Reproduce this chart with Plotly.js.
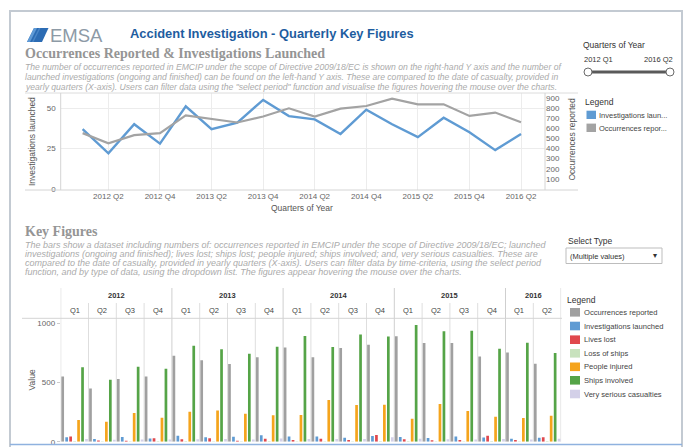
<!DOCTYPE html>
<html><head><meta charset="utf-8">
<script src="https://cdn.plot.ly/plotly-3.0.1.min.js"></script>
<style>html,body{margin:0;padding:0;background:#fff;}#chart{width:686px;height:447px;}</style>
</head><body><div id="chart"></div>
<script>
// ---------- data ----------
const quarters = ['2012 Q1','2012 Q2','2012 Q3','2012 Q4','2013 Q1','2013 Q2','2013 Q3','2013 Q4',
  '2014 Q1','2014 Q2','2014 Q3','2014 Q4','2015 Q1','2015 Q2','2015 Q3','2015 Q4','2016 Q1','2016 Q2'];
const lineTicks = ['2012 Q2','2012 Q4','2013 Q2','2013 Q4','2014 Q2','2014 Q4','2015 Q2','2015 Q4','2016 Q2'];
const years = ['2012','2013','2014','2015','2016'];
const qLabels = ['Q1','Q2','Q3','Q4'];
const investigations = [37,22,40,28,51,37,41,55,45,43,34,49,40,32,44,35,24,34];
const occurrences = [552,451,532,552,728,689,657,716,797,716,794,820,892,836,836,722,755,660];
const livesLost = [45,11,9,30,20,30,8,26,15,25,15,57,20,13,15,50,15,37];
const lossOfShips = [6,3,4,5,5,4,3,5,4,4,3,6,5,3,4,6,3,5];
const peopleInjured = [184,169,243,203,254,265,237,223,226,353,311,313,195,319,260,212,201,220];
const shipsInvolved = [630,525,635,618,813,782,745,805,895,802,907,890,989,935,940,788,839,751];
const verySerious = [23,16,19,19,20,22,18,28,23,22,22,37,24,21,19,23,19,25];
const seriesNames = ['Occurrences reported','Investigations launched','Lives lost','Loss of ships','People injured','Ships involved','Very serious casualties'];
const seriesColors = ['#a0a0a0','#5f9bd3','#e0484d','#c8e2bd','#f5a41c','#55a447','#d3d0e8'];
const lineLegend = ['Investigations laun...','Occurrences repor...'];
const lineYTicks = [0,25,50];
const lineY2Ticks = [100,200,300,400,500,600,700,800,900];
const barYTicks = [0,500,1000];

// ---------- helpers ----------
const W = 686, H = 447;
const px = x => x / W;
const py = y => 1 - y / H;
const SANS = 'Liberation Sans, Arial, sans-serif';
const SERIF = 'Liberation Serif, Times New Roman, serif';
function txt(text, x, y, size, color, o) {
  return Object.assign({text: text, xref: 'paper', yref: 'paper', x: px(x), y: py(y),
    xanchor: 'left', yanchor: 'middle', showarrow: false, borderpad: 0,
    font: {family: SANS, size: size, color: color}}, o || {});
}
function hline(x0, x1, y, color, w) {
  return {type: 'line', xref: 'paper', yref: 'paper', x0: px(x0), x1: px(x1), y0: py(y), y1: py(y), line: {color: color, width: w || 1}};
}
function vline(x, y0, y1, color, w) {
  return {type: 'line', xref: 'paper', yref: 'paper', x0: px(x), x1: px(x), y0: py(y0), y1: py(y1), line: {color: color, width: w || 1}};
}
function box(x0, y0, x1, y1, fill, lc, lw) {
  return {type: 'rect', xref: 'paper', yref: 'paper', x0: px(x0), x1: px(x1), y0: py(y1), y1: py(y0),
    fillcolor: fill, line: {color: lc || fill, width: lw === undefined ? 0 : lw}};
}

// ---------- traces ----------
const traces = [
  {type: 'scatter', mode: 'lines', x: quarters, y: occurrences, xaxis: 'x', yaxis: 'y2',
   line: {color: '#a3a3a3', width: 2.2}, showlegend: false, hoverinfo: 'skip'},
  {type: 'scatter', mode: 'lines', x: quarters, y: investigations, xaxis: 'x', yaxis: 'y',
   line: {color: '#5f9bd3', width: 2.4}, showlegend: false, hoverinfo: 'skip'}
];
const barData = [occurrences, investigations, livesLost, lossOfShips, peopleInjured, shipsInvolved, verySerious];
barData.forEach((vals, i) => {
  traces.push({type: 'bar', x: quarters, y: vals, xaxis: 'x2', yaxis: 'y3', name: seriesNames[i],
    marker: {color: seriesColors[i], line: {width: 0}}, showlegend: false, hoverinfo: 'skip'});
});

// ---------- annotations ----------
const anns = [];
anns.push(txt('EMSA', 49, 35.5, 18.5, '#8d9aa6'));
anns.push(txt('<b>Accident Investigation - Quarterly Key Figures</b>', 129, 33.5, 12.9, '#1e5d9f'));
anns.push(txt('<b>Occurrences Reported & Investigations Launched</b>', 24, 53.5, 14, '#959595', {font: {family: SERIF, size: 14, color: '#959595'}}));
const desc1 = [
  'The number of occurrences reported in EMCIP under the scope of Directive 2009/18/EC is shown on the right-hand Y axis and the number of',
  'launched investigations (ongoing and finished) can be found on the left-hand Y axis. These are compared to the date of casualty, provided in',
  'yearly quarters (X-axis). Users can filter data using the "select period" function and visualise the figures hovering the mouse over the charts.'];
desc1.forEach((t, i) => anns.push(txt('<i>' + t + '</i>', 24, 66.8 + i * 10.1, 8.6, '#ababab')));
anns.push(txt('<b>Key Figures</b>', 24, 232, 14, '#959595', {font: {family: SERIF, size: 14, color: '#959595'}}));
const desc2 = [
  'The bars show a dataset including numbers of: occurrences reported in EMCIP under the scope of Directive 2009/18/EC; launched',
  'investigations (ongoing and finished); lives lost; ships lost; people injured; ships involved; and, very serious casualties. These are',
  'compared to the date of casualty, provided in yearly quarters (X-axis). Users can filter data by time-criteria, using the select period',
  'function, and by type of data, using the dropdown list. The figures appear hovering the mouse over the charts.'];
desc2.forEach((t, i) => anns.push(txt('<i>' + t + '</i>', 24, 244.5 + i * 9.3, 9, '#ababab')));

// axis titles (line chart)
anns.push(txt('Investigations launched', 31.5, 141.5, 8.5, '#555', {xanchor: 'center', textangle: -90}));
anns.push(txt('Occurrences reported', 571.5, 140, 8.5, '#555', {xanchor: 'center', textangle: -90}));
anns.push(txt('Quarters of Year', 302, 208.5, 8.5, '#555', {xanchor: 'center'}));
// right panel (top)
anns.push(txt('Quarters of Year', 582, 45, 8.5, '#333'));
anns.push(txt('2012 Q1', 583, 59.5, 7.5, '#333'));
anns.push(txt('2016 Q2', 674, 59.5, 7.5, '#333', {xanchor: 'right'}));
anns.push(txt('Legend', 584, 102, 8.5, '#333'));
anns.push(txt(lineLegend[0], 598, 115, 7.5, '#444'));
anns.push(txt(lineLegend[1], 598, 128, 7.5, '#444'));
// select type
anns.push(txt('Select Type', 567, 241, 8.5, '#333'));
anns.push(txt('(Multiple values)', 569, 256, 7.5, '#333'));
anns.push(txt('\u25BE', 655, 255.5, 8, '#333', {xanchor: 'center'}));
// bar legend
anns.push(txt('Legend', 566, 300, 8.5, '#333'));
const legRows = [312.3, 326, 339.7, 353.3, 366.8, 380.3, 394];
seriesNames.forEach((n, i) => anns.push(txt(n, 583, legRows[i], 7.6, '#444')));
// bar chart header
years.forEach((y, k) => {
  const c = k < 4 ? 4 * k + 1.5 : 16.5;
  anns.push({text: '<b>' + y + '</b>', xref: 'x2', yref: 'paper', x: c, y: py(295.5), xanchor: 'center', yanchor: 'middle',
    showarrow: false, font: {family: SANS, size: 7.5, color: '#333'}});
});
quarters.forEach((q, i) => {
  anns.push({text: qLabels[i % 4], xref: 'x2', yref: 'paper', x: i, y: py(310), xanchor: 'center', yanchor: 'middle',
    showarrow: false, font: {family: SANS, size: 7.5, color: '#444'}});
});
anns.push(txt('Value', 31.5, 380, 8.5, '#555', {xanchor: 'center', textangle: -90}));

// ---------- shapes ----------
const shapes = [];
// outer frame
shapes.push({type: 'path', xref: 'paper', yref: 'paper',
  path: 'M ' + px(10) + ' ' + py(470) + ' L ' + px(10) + ' ' + py(11) + ' L ' + px(682) + ' ' + py(11) + ' L ' + px(682) + ' ' + py(470),
  line: {color: '#c3cad2', width: 2}});
shapes.push(hline(10, 682, 444.5, '#8fb2df', 1.5));
// logo
shapes.push({type: 'path', xref: 'paper', yref: 'paper',
  path: 'M ' + px(27) + ' ' + py(42) + ' L ' + px(34) + ' ' + py(28) + ' L ' + px(48.5) + ' ' + py(28) + ' L ' + px(42) + ' ' + py(42) + ' Z',
  fillcolor: '#2c6cb4', line: {width: 0}});
shapes.push({type: 'path', xref: 'paper', yref: 'paper',
  path: 'M ' + px(27) + ' ' + py(42) + ' L ' + px(34) + ' ' + py(28) + ' L ' + px(37) + ' ' + py(28) + ' L ' + px(30) + ' ' + py(42) + ' Z',
  fillcolor: '#5f9ad6', line: {width: 0}});
shapes.push({type: 'path', xref: 'paper', yref: 'paper',
  path: 'M ' + px(32) + ' ' + py(42) + ' L ' + px(39) + ' ' + py(28) + ' L ' + px(40.5) + ' ' + py(28) + ' L ' + px(33.5) + ' ' + py(42) + ' Z',
  fillcolor: '#4a86c8', line: {width: 0}});
// line chart pane
shapes.push(hline(25, 578, 93, '#dcdcdc'));
shapes.push(hline(25, 578, 190, '#d4d4d4'));
shapes.push(vline(60.7, 93, 190, '#d4d4d4'));
shapes.push(vline(545, 93, 190, '#d4d4d4'));
// slider
shapes.push(hline(589, 669, 72, '#5a5a5a', 3));
shapes.push({type: 'circle', xref: 'paper', yref: 'paper', x0: px(584), x1: px(592), y0: py(76), y1: py(68), fillcolor: '#fff', line: {color: '#6a6a6a', width: 1}});
shapes.push({type: 'circle', xref: 'paper', yref: 'paper', x0: px(666), x1: px(674), y0: py(76), y1: py(68), fillcolor: '#fff', line: {color: '#6a6a6a', width: 1}});
// line legend swatches
shapes.push(box(586.5, 110.7, 596, 119, '#5f9bd3'));
shapes.push(box(586.5, 123.6, 596, 132, '#a3a3a3'));
// dropdown
shapes.push(box(566, 248, 662, 263.5, '#ffffff', '#bdbdbd', 1));
// bar legend swatches
seriesColors.forEach((c, i) => shapes.push(box(570, legRows[i] - 4.3, 580, legRows[i] + 4.3, c)));
// bar chart grid
shapes.push(hline(22, 562, 318.3, '#d4d4d4'));
for (let b = 0; b <= 18; b++) {
  const yearLine = (b % 4 === 0) || b === 18;
  shapes.push({type: 'line', xref: 'x2', yref: 'paper', x0: b - 0.5, x1: b - 0.5,
    y0: py(441.7), y1: py(yearLine ? 288 : 303), line: {color: yearLine ? '#cfcfcf' : '#dedede', width: 1}, layer: 'below'});
}

// ---------- layout ----------
const tickFont = {family: SANS, size: 8, color: '#666'};
const layout = {
  width: W, height: H, margin: {l: 0, r: 0, t: 0, b: 0},
  paper_bgcolor: '#fff', plot_bgcolor: 'rgba(0,0,0,0)',
  showlegend: false, hovermode: false,
  barmode: 'group', bargap: 0, bargroupgap: 0.32,
  xaxis: {domain: [px(60.7), px(545)], anchor: 'y', type: 'category', categoryarray: quarters,
    range: [-0.85, 17.93], tickmode: 'array', tickvals: lineTicks, ticktext: lineTicks,
    showgrid: true, gridcolor: '#ececec', zeroline: false, showline: false, ticks: '', tickfont: tickFont},
  yaxis: {domain: [py(190), py(93)], anchor: 'x', range: [-0.62, 59.26], tickmode: 'array', tickvals: lineYTicks,
    showgrid: true, gridcolor: '#ececec', zeroline: false, showline: false, ticks: '', tickfont: tickFont, ticklabelstandoff: 4},
  yaxis2: {domain: [py(190), py(93)], anchor: 'x', overlaying: 'y', side: 'right', range: [-9.9, 948.2],
    tickmode: 'array', tickvals: lineY2Ticks, showgrid: false, zeroline: false, showline: false, ticks: '', tickfont: tickFont},
  xaxis2: {domain: [px(60.7), px(561.1)], anchor: 'y3', type: 'category', categoryarray: quarters, range: [-0.5, 17.5],
    showticklabels: false, showgrid: false, zeroline: false, showline: false, ticks: ''},
  yaxis3: {domain: [py(441.7), py(318.3)], anchor: 'x2', range: [0, 1045], tickmode: 'array', tickvals: barYTicks,
    showgrid: false, zeroline: false, showline: false, ticks: 'outside', ticklen: 3, tickcolor: '#cccccc', tickfont: tickFont},
  annotations: anns, shapes: shapes
};
Plotly.newPlot('chart', traces, layout, {displayModeBar: false, staticPlot: true});
</script></body></html>
